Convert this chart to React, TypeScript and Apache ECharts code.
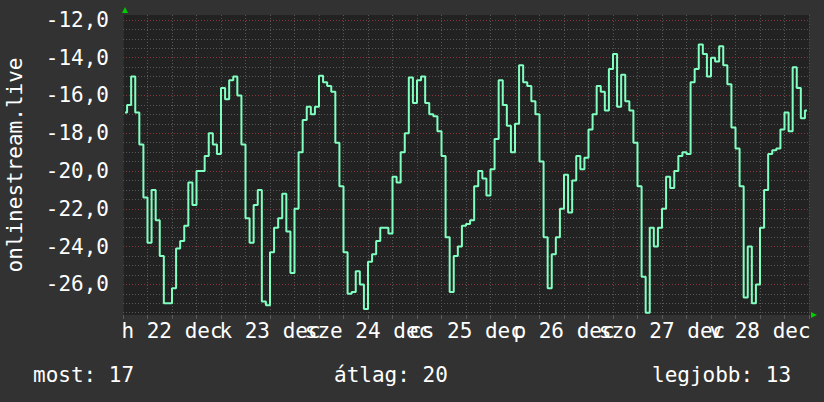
import React, { useEffect, useRef } from 'react';
import * as echarts from 'echarts';

// Day labels (Hungarian weekday abbreviations), centred on each day's noon
const dayLabels = ['h 22 dec', 'k 23 dec', 'sze 24 dec', 'cs 25 dec', 'p 26 dec', 'szo 27 dec', 'v 28 dec'];

// Hourly values, 22 dec 00:00 -> 28 dec 23:00 (168 values)
const hourlyValues = [
  -16.9, -16.5, -15.0, -16.9, -18.6, -21.4, -23.8, -21.0, -22.6, -24.5, -27.0, -27.0,
  -26.2, -24.1, -23.7, -22.9, -20.6, -21.8, -20.0, -20.0, -19.2, -18.0, -18.6, -19.1,
  -15.6, -16.2, -15.2, -15.0, -16.0, -18.6, -22.5, -23.8, -21.8, -21.0, -26.9, -27.1,
  -24.3, -23.0, -22.5, -21.2, -23.2, -25.4, -22.0, -19.0, -17.3, -16.6, -17.0, -16.6,
  -14.95, -15.3, -15.5, -15.8, -18.5, -20.8, -24.3, -26.5, -26.4, -25.3, -26.0, -27.3,
  -24.8, -24.4, -23.7, -23.0, -23.0, -23.3, -20.3, -20.6, -19.0, -18.0, -15.05, -16.4,
  -15.2, -15.0, -16.4, -17.0, -17.1, -17.9, -19.2, -23.5, -26.4, -24.5, -24.0, -22.9,
  -22.8, -22.6, -20.8, -20.0, -20.4, -21.3, -19.9, -18.3, -15.2, -16.5, -17.6, -19.0,
  -17.5, -14.4, -15.3, -15.5, -16.3, -17.0, -19.5, -23.5, -26.2, -24.4, -23.5, -22.0,
  -20.2, -22.2, -20.5, -19.2, -19.9, -19.3, -17.8, -17.0, -15.5, -15.8, -16.8, -14.6,
  -13.8, -16.6, -14.9, -16.3, -16.8, -18.5, -20.8, -25.6, -27.5, -23.0, -24.0, -23.0,
  -22.0, -20.3, -20.9, -20.0, -19.2, -19.0, -19.1, -15.3, -14.6, -13.3, -13.8, -15.0,
  -14.0, -14.2, -13.4, -14.4, -15.4, -17.7, -18.8, -20.8, -26.7, -24.0, -27.0, -26.0,
  -23.0, -21.0, -19.1, -18.9, -18.8, -17.8, -16.9, -17.9, -14.5, -15.6, -17.2, -16.8,
];

const yTickValues = [-26, -24, -22, -20, -18, -16, -14, -12];
const statNames = ['most', 'átlag', 'legjobb'];
const statValues = [17, 20, 13];
const axisTitle = 'onlinestream.live';

const FONT = '"DejaVu Sans Mono", monospace';
const RED = '#8a3636';
const GRAY = '#585858';

export default function App() {
  const ref = useRef<HTMLDivElement>(null);

  useEffect(() => {
    const chart = echarts.init(ref.current as HTMLDivElement, null, { renderer: 'svg' });

    const gridVals: number[] = [];
    for (let v = -27.5; v <= -12; v += 0.5) gridVals.push(v);

    const option: any = {
      animation: false,
      backgroundColor: '#323232',
      grid: {
        left: 123,
        right: 15,
        top: 15,
        bottom: 87,
        show: true,
        backgroundColor: '#222222',
        borderWidth: 0,
      },
      xAxis: {
        type: 'value',
        min: 0,
        max: 168,
        interval: 6,
        axisLine: { show: false },
        axisTick: { show: true, length: 4, lineStyle: { color: '#5a5a5a' } },
        splitLine: {
          show: true,
          lineStyle: { color: [RED, GRAY, GRAY, GRAY], type: [1, 2], width: 1 },
        },
        axisLabel: {
          color: '#ffffff',
          fontFamily: FONT,
          fontSize: 21,
          margin: 5,
          showMinLabel: true,
          showMaxLabel: true,
          formatter: (v: number) => (v % 24 === 12 ? dayLabels[(v - 12) / 24] : ''),
        },
      },
      yAxis: {
        type: 'value',
        min: -27.62,
        max: -11.74,
        axisLine: { show: true, lineStyle: { color: '#2c2c2c', width: 1 } },
        axisTick: { show: false },
        splitLine: { show: false },
        axisLabel: {
          customValues: yTickValues,
          color: '#ffffff',
          fontFamily: FONT,
          fontSize: 21,
          margin: 14,
          formatter: (v: number) => v.toFixed(1).replace('.', ','),
        },
      },
      series: [
        {
          type: 'line',
          z: 10,
          step: 'middle',
          showSymbol: false,
          symbol: 'none',
          data: hourlyValues.map((v, i) => [i + 0.5, v]),
          lineStyle: { color: '#80ffc0', width: 2 },
          markLine: {
            silent: true,
            symbol: 'none',
            animation: false,
            label: { show: false },
            data: gridVals.map((v) => ({
              yAxis: v,
              lineStyle: { color: v % 2 === 0 ? RED : GRAY, type: [1, 2], width: 1 },
            })),
          },
        },
      ],
      graphic: [
        {
          type: 'text',
          x: 15,
          y: 165,
          rotation: Math.PI / 2,
          style: {
            text: axisTitle,
            fill: '#ffffff',
            font: `21px ${FONT}`,
            textAlign: 'center',
            textVerticalAlign: 'middle',
          },
        },
        {
          type: 'polygon',
          shape: { points: [[122, 13], [128, 13], [125, 7]] },
          style: { fill: '#00cc00' },
        },
        {
          type: 'polygon',
          shape: { points: [[811, 312], [811, 318], [817, 315]] },
          style: { fill: '#00cc00' },
        },
        ...statNames.map((n, i) => ({
          type: 'text',
          x: [33, 334, 652][i],
          y: 375,
          style: {
            text: `${n}: ${statValues[i]}`,
            fill: '#ffffff',
            font: `21px ${FONT}`,
            textAlign: 'left',
            textVerticalAlign: 'middle',
          },
        })),
      ],
    };

    chart.setOption(option);
    return () => chart.dispose();
  }, []);

  return (
    <div
      ref={ref}
      style={{ position: 'fixed', left: 0, top: 0, width: 824, height: 402 }}
    />
  );
}
